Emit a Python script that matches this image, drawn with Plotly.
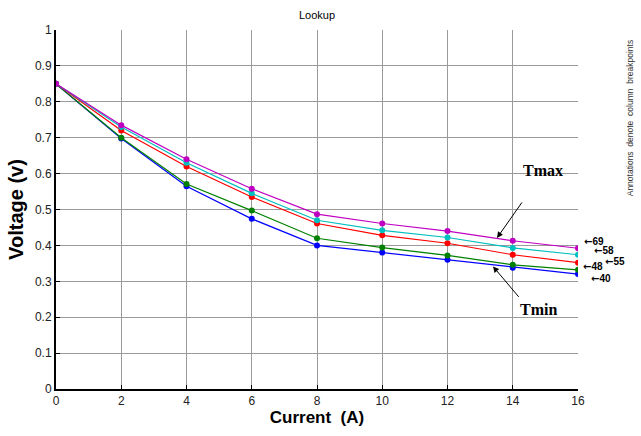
import plotly.graph_objects as go

current = [0, 2, 4, 6, 8, 10, 12, 14, 16]
v_69 = [0.85, 0.735, 0.640, 0.558, 0.487, 0.461, 0.440, 0.413, 0.392]
v_58 = [0.85, 0.730, 0.630, 0.545, 0.470, 0.442, 0.422, 0.393, 0.374]
v_48 = [0.85, 0.720, 0.620, 0.535, 0.461, 0.428, 0.406, 0.374, 0.352]
v_55 = [0.85, 0.700, 0.571, 0.497, 0.420, 0.394, 0.372, 0.346, 0.332]
v_40 = [0.85, 0.698, 0.565, 0.474, 0.400, 0.380, 0.360, 0.338, 0.320]

series = [("40", v_40, "#0000FF"), ("55", v_55, "#008000"), ("48", v_48, "#FF0000"),
          ("58", v_58, "#00BFBF"), ("69", v_69, "#C000C0")]

breakpoint_labels = ["69", "58", "55", "48", "40"]

fig = go.Figure()
for name, vals, col in series:
    fig.add_trace(go.Scatter(x=current, y=vals, mode="lines+markers", name=name,
                             line=dict(color=col, width=1.2),
                             marker=dict(color=col, size=6)))

# plot area in pixels: x 56..578, y 30..396
L, R, T, B = 56, 578, 30, 396
def px2x(p):
    return (p - L) / (R - L) * 16
def px2y(p):
    return (B - p) / (B - T) * 1.0
def px2px(p):
    return (p - L) / (R - L)
def py2py(p):
    return (B - p) / (B - T)

annos = []
# Tmax / Tmin arrows
annos.append(dict(x=px2x(497), y=px2y(242), xref="x", yref="y", ax=26, ay=-37,
                  text="", showarrow=True, arrowhead=2, arrowsize=1.2, arrowwidth=1,
                  arrowcolor="black"))
annos.append(dict(x=px2x(493), y=px2y(271), xref="x", yref="y", ax=27, ay=32,
                  text="", showarrow=True, arrowhead=2, arrowsize=1.2, arrowwidth=1,
                  arrowcolor="black"))
annos.append(dict(x=px2x(543), y=px2y(173), xref="x", yref="y", text="<b>Tmax</b>",
                  showarrow=False, font=dict(family="Liberation Serif", size=16, color="black")))
annos.append(dict(x=px2x(538), y=px2y(315), xref="x", yref="y", text="<b>Tmin</b>",
                  showarrow=False, font=dict(family="Liberation Serif", size=16, color="black")))
# breakpoint labels
label_pos = {"69": (582, 246), "58": (592, 255), "55": (603, 266), "48": (581, 271), "40": (589, 283)}
for lab in breakpoint_labels:
    px, py = label_pos[lab]
    annos.append(dict(x=px2px(px), y=py2py(py), xref="paper", yref="paper",
                      text="<b><span style='font-family:DejaVu Sans'>\u2190</span>" + lab + "</b>",
                      xanchor="left", yanchor="middle", showarrow=False,
                      font=dict(family="Liberation Sans", size=10, color="black")))
# side note
annos.append(dict(x=px2px(630), y=py2py(120), xref="paper", yref="paper",
                  xanchor="center", yanchor="middle",
                  text="Annotations  denote  column  breakpoints",
                  textangle=-90, showarrow=False,
                  font=dict(family="Liberation Sans", size=8.5, color="#333333")))

fig.update_layout(
    width=641, height=436,
    margin=dict(l=L, r=641 - R, t=T, b=436 - B),
    paper_bgcolor="white", plot_bgcolor="white",
    showlegend=False,
    title=dict(text="Lookup", x=317 / 641, xanchor="center", y=1 - 15 / 436, yanchor="middle",
               font=dict(family="Liberation Sans", size=11, color="black")),
    font=dict(family="Liberation Sans", color="#222222"),
    annotations=annos,
)
fig.update_xaxes(range=[0, 16], tickvals=current, ticks="inside", ticklen=4, tickcolor="black",
                 showline=True, linecolor="black", linewidth=2,
                 showgrid=True, gridcolor="#9a9a9a", gridwidth=1, zeroline=False,
                 tickfont=dict(size=12, color="#222222"),
                 title=dict(text="<b>Current  (A)</b>", font=dict(size=17, color="black"), standoff=4))
fig.update_yaxes(range=[0, 1], dtick=0.1, ticks="inside", ticklen=4, tickcolor="black",
                 showline=True, linecolor="black", linewidth=2,
                 showgrid=True, gridcolor="#9a9a9a", gridwidth=1, zeroline=False,
                 tickfont=dict(size=12, color="#222222"),
                 title=dict(text="<b>Voltage (v)</b>", font=dict(size=20, color="black"), standoff=6))

fig.write_html("out.html")
